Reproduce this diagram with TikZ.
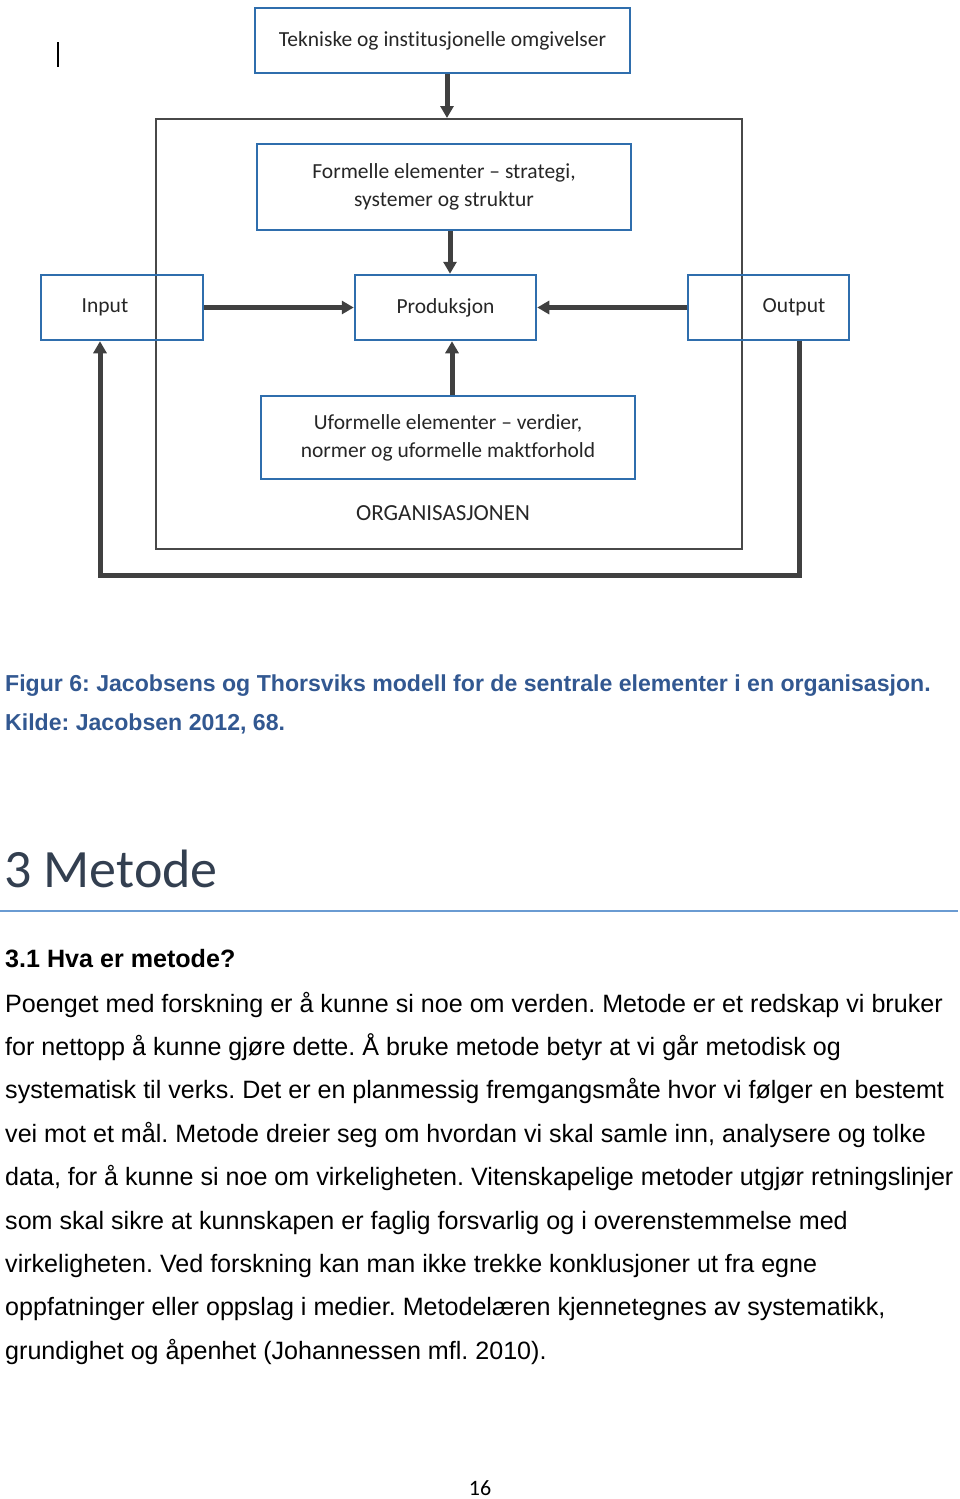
\documentclass[tikz,border=0pt]{standalone}
\usepackage{fontspec}
\setmainfont{Liberation Sans}
\newfontfamily\calibri[Ligatures={TeX,NoCommon}]{Carlito}
\usepackage{xcolor}
\usetikzlibrary{positioning, arrows.meta, calc}
\definecolor{boxblue}{RGB}{47, 110, 173}
\definecolor{arrowgray}{RGB}{64, 64, 64}
\definecolor{orggray}{RGB}{72, 72, 72}
\definecolor{captionblue}{RGB}{50, 88, 145}
\definecolor{headslate}{RGB}{51, 63, 80}
\definecolor{ruleblue}{RGB}{106, 155, 210}
\newcommand{\diagfont}{\calibri\fontsize{21.5}{28}\selectfont}
\newcommand{\bodyfont}{\fontsize{25.1}{30}\selectfont}
\frenchspacing

\begin{document}
\begin{tikzpicture}[
        x=1pt, y=-1pt,
        blockbox/.style={rectangle, draw=boxblue, line width=2.5pt, inner sep=0pt, text=black!85, font=\diagfont, align=center},
        arrow/.style={-{Triangle[length=12pt, width=13pt]}, line width=5pt, draw=arrowgray, line join=miter},
        textline/.style={anchor=base west, inner sep=0pt, font=\bodyfont}
    ]
        \useasboundingbox (0,0) rectangle (960,1499);

        % Cursor mark
        \draw[line width=1.3pt] (58,42) -- (58,67);

        % Environment
        \node[blockbox, minimum width=375pt, minimum height=65pt] (omgivelser) at (442.5,40.5) {Tekniske og institusjonelle omgivelser};

        % Organisation frame
        \node[rectangle, draw=orggray, line width=2pt, inner sep=0pt, minimum width=586pt, minimum height=430pt] (org) at (449,334) {};
        \node[anchor=base, inner sep=0pt, font=\calibri\fontsize{23}{28}\selectfont, text=black!85] (orglabel) at (443,520) {ORGANISASJONEN};

        % Formal and informal elements
        \node[blockbox, minimum width=374pt, minimum height=86pt] (formelle) at (444,187) {Formelle elementer – strategi,\\ systemer og struktur};
        \node[blockbox, minimum width=374pt, minimum height=83pt] (uformelle) at (448,437.5) {Uformelle elementer – verdier,\\ normer og uformelle maktforhold};

        % Input, production, output
        \node[blockbox, minimum width=162pt, minimum height=65pt] (input) at (122,307.5) {\hspace*{-34pt}Input};
        \node[blockbox, minimum width=181pt, minimum height=65pt] (produksjon) at (445.5,307.5) {Produksjon};
        \node[blockbox, minimum width=161pt, minimum height=65pt] (output) at (768.5,307.5) {Output\hspace*{-51pt}};

        % Flows
        \draw[arrow] ([xshift=4.5pt]omgivelser.south) -- ([xshift=4.5pt]omgivelser.south |- org.north);
        \draw[arrow] ([xshift=6pt]formelle.south) -- ([xshift=6pt]formelle.south |- produksjon.north);
        \draw[arrow] ([xshift=4pt]uformelle.north) -- ([xshift=4pt]uformelle.north |- produksjon.south);
        \draw[arrow] (input) -- (produksjon);
        \draw[arrow] (output) -- (produksjon);

        % Feedback loop
        \coordinate (loopR) at (799,575);
        \coordinate (loopL) at (100,575);
        \draw[arrow] (output.south -| loopR) -- (loopR) -- (loopL) -- (input.south -| loopL);

        % Caption
        \node[anchor=base west, inner sep=0pt, font=\fontsize{23.1}{28}\selectfont\bfseries, text=captionblue] (cap1) at (5,691) {Figur 6: Jacobsens og Thorsviks modell for de sentrale elementer i en organisasjon.};
        \node[anchor=base west, inner sep=0pt, font=\fontsize{23.1}{28}\selectfont\bfseries, text=captionblue] (cap2) at (5,730) {Kilde: Jacobsen 2012, 68.};

        % Chapter heading
        \node[anchor=base west, inner sep=0pt, font=\calibri\fontsize{54}{60}\selectfont, text=headslate] (chapter) at (4,887) {3 Metode};
        \draw[ruleblue, line width=1.5pt] (0,911) -- (958,911);
        \node[textline, font=\bodyfont\bfseries] (section) at (5,967) {3.1 Hva er metode?};

        % Body text
        \node[textline] (l1) at (5,1012) {Poenget med forskning er å kunne si noe om verden. Metode er et redskap vi bruker};
        \node[textline] (l2) at (5,1055.4) {for nettopp å kunne gjøre dette. Å bruke metode betyr at vi går metodisk og};
        \node[textline] (l3) at (5,1098.8) {systematisk til verks. Det er en planmessig fremgangsmåte hvor vi følger en bestemt};
        \node[textline] (l4) at (5,1142.2) {vei mot et mål. Metode dreier seg om hvordan vi skal samle inn, analysere og tolke};
        \node[textline] (l5) at (5,1185.6) {data, for å kunne si noe om virkeligheten. Vitenskapelige metoder utgjør retningslinjer};
        \node[textline] (l6) at (5,1229) {som skal sikre at kunnskapen er faglig forsvarlig og i overenstemmelse med};
        \node[textline] (l7) at (5,1272.4) {virkeligheten. Ved forskning kan man ikke trekke konklusjoner ut fra egne};
        \node[textline] (l8) at (5,1315.8) {oppfatninger eller oppslag i medier. Metodelæren kjennetegnes av systematikk,};
        \node[textline] (l9) at (5,1359.2) {grundighet og åpenhet (Johannessen mfl. 2010).};

        % Page number
        \node[anchor=base, inner sep=0pt, font=\calibri\fontsize{22}{26}\selectfont] (pagenum) at (480,1495) {16};
    \end{tikzpicture}
\end{document}
